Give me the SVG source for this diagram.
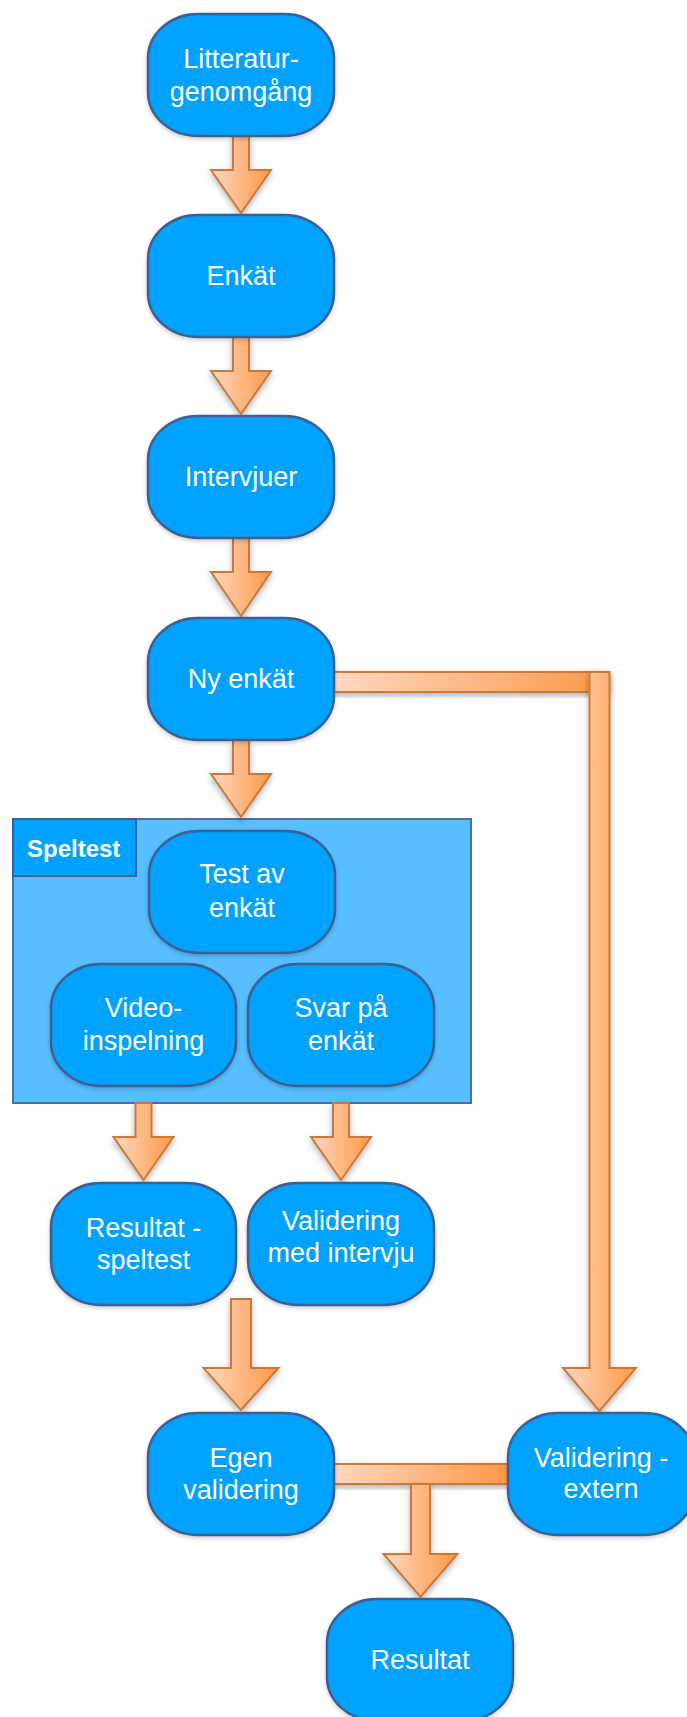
<svg xmlns="http://www.w3.org/2000/svg" width="687" height="1717" viewBox="0 0 687 1717">
<defs>
<linearGradient id="og" x1="0" y1="0" x2="1" y2="0">
<stop offset="0" stop-color="#fed8c2"/>
<stop offset="1" stop-color="#fd9845"/>
</linearGradient>
<filter id="sh" x="-30%" y="-30%" width="160%" height="160%">
<feDropShadow dx="0" dy="3" stdDeviation="3" flood-color="#000" flood-opacity="0.3"/>
</filter>
<filter id="nsh" x="-10%" y="-10%" width="120%" height="125%">
<feDropShadow dx="0" dy="2" stdDeviation="2" flood-color="#000" flood-opacity="0.2"/>
</filter>
</defs>
<style>
.c{fill:url(#og);stroke:#c97a3b;stroke-width:2;filter:url(#sh)}
.n{fill:#00a2ff;stroke:#3d5f91;stroke-width:2.5;filter:url(#nsh)}
.t{font-family:"Liberation Sans",Arial,Helvetica,sans-serif;font-size:27px;fill:#fff;text-anchor:middle}
.g{fill:#57bfff;stroke:#4a6fa3;stroke-width:2}
.lb{fill:#00a2ff;stroke:#3d5f91;stroke-width:2}
.lt{font-family:"Liberation Sans",Arial,Helvetica,sans-serif;font-size:24px;font-weight:bold;fill:#fff}
</style>
<rect width="687" height="1717" fill="#fff"/>
<g id="speltest">
<rect class="g" x="13" y="819" width="458" height="284"/>
<rect class="lb" x="13" y="819" width="123" height="57"/>
<text class="lt" x="27" y="857">Speltest</text>
</g>
<g id="connectors">
<path class="c" d="M233,136H249V170H271L241,213L211,170H233Z"/>
<path class="c" d="M233,337H249V371H271L241,414L211,371H233Z"/>
<path class="c" d="M233,538H249V572H271L241,616L211,572H233Z"/>
<path class="c" d="M233,740H249V774H271L241,817L211,774H233Z"/>
<path class="c" d="M135.5,1103H151.5V1137H173.5L143.5,1180L113.5,1137H135.5Z"/>
<path class="c" d="M333,1103H349V1137H371L341,1180L311,1137H333Z"/>
<path class="c" d="M231,1299H251V1368H278.5L241,1410L203.5,1368H231Z"/>
<rect class="c" x="334" y="672" width="275" height="20"/>
<path class="c" d="M589.5,672H609.5V1368H636L599.5,1411L563,1368H589.5Z"/>
<rect class="c" x="333" y="1464" width="175" height="20"/>
<path class="c" d="M411,1484H430V1554H457.5L420.5,1597L383.5,1554H411Z"/>
</g>
<g id="n1"><rect class="n" x="148" y="14" width="186" height="122" rx="50" ry="44"/><text class="t" x="241" y="68">Litteratur-</text><text class="t" x="241" y="101">genomgång</text></g>
<g id="n2"><rect class="n" x="148" y="215" width="186" height="122" rx="50" ry="44"/><text class="t" x="241" y="285">Enkät</text></g>
<g id="n3"><rect class="n" x="148" y="416" width="186" height="122" rx="50" ry="44"/><text class="t" x="241" y="486">Intervjuer</text></g>
<g id="n4"><rect class="n" x="148" y="618" width="186" height="122" rx="50" ry="44"/><text class="t" x="241" y="688">Ny enkät</text></g>
<g id="n5"><rect class="n" x="149" y="831" width="186" height="122" rx="50" ry="44"/><text class="t" x="242" y="883">Test av</text><text class="t" x="242" y="917">enkät</text></g>
<g id="n6"><rect class="n" x="51" y="964" width="185" height="122" rx="50" ry="44"/><text class="t" x="143.5" y="1017">Video-</text><text class="t" x="143.5" y="1050">inspelning</text></g>
<g id="n7"><rect class="n" x="248" y="964" width="186" height="122" rx="50" ry="44"/><text class="t" x="341" y="1017">Svar på</text><text class="t" x="341" y="1050">enkät</text></g>
<g id="n8"><rect class="n" x="51" y="1183" width="185" height="122" rx="50" ry="44"/><text class="t" x="143.5" y="1237">Resultat -</text><text class="t" x="143.5" y="1269">speltest</text></g>
<g id="n9"><rect class="n" x="248" y="1183" width="186" height="122" rx="50" ry="44"/><text class="t" x="341" y="1230">Validering</text><text class="t" x="341" y="1262">med intervju</text></g>
<g id="n10"><rect class="n" x="148" y="1413" width="186" height="122" rx="50" ry="44"/><text class="t" x="241" y="1467">Egen</text><text class="t" x="241" y="1499">validering</text></g>
<g id="n11"><rect class="n" x="508" y="1413" width="186" height="122" rx="50" ry="44"/><text class="t" x="601" y="1467">Validering -</text><text class="t" x="601" y="1498">extern</text></g>
<g id="n12"><rect class="n" x="327" y="1599" width="186" height="122" rx="50" ry="44"/><text class="t" x="420" y="1669">Resultat</text></g>
</svg>
